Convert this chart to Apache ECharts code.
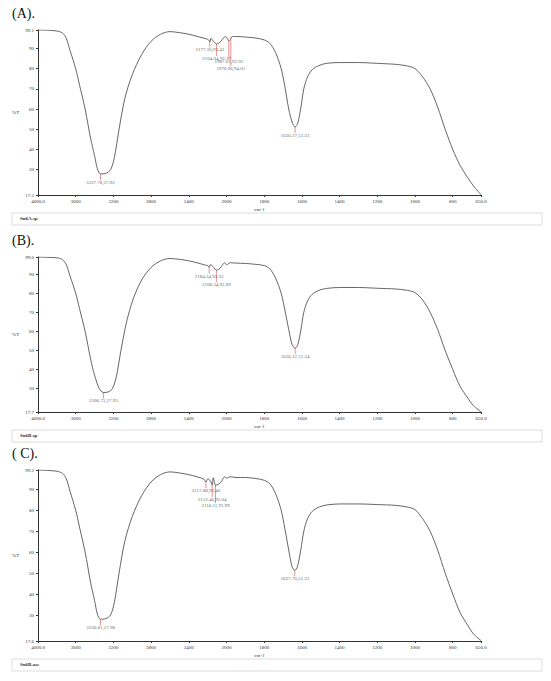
<!DOCTYPE html>
<html><head><meta charset="utf-8">
<script src="https://cdn.jsdelivr.net/npm/echarts@6/dist/echarts.min.js"></script>
<style>html,body{margin:0;background:#fff}#chart{width:551px;height:681px}</style>
</head><body><div id="chart"></div>
<script>
// wavenumber (cm-1), %T
const specA = [[4000,99.1],[3900,99],[3800,98.6],[3740,97.6],[3700,95],[3660,89],[3600,80],[3560,72],[3500,60],[3440,45],[3400,37],[3370,30.5],[3337,27.9],[3280,28.2],[3230,30],[3190,36],[3140,50],[3080,65],[3000,77],[2900,87],[2800,93.5],[2700,97],[2600,98.3],[2500,97.8],[2400,97],[2300,95.8],[2220,94.8],[2190,94.2],[2177,93.2],[2165,95],[2140,93.6],[2104,92.2],[2060,93.5],[2030,95.3],[2010,95.8],[1995,94.8],[1987,93.8],[1980,94.2],[1970,95.8],[1940,95.9],[1900,95.6],[1850,95.2],[1800,94.2],[1770,92.5],[1740,88],[1710,80],[1690,71],[1670,60],[1650,53],[1636,51.2],[1622,53],[1605,61],[1590,70],[1570,76],[1545,79.5],[1510,81.5],[1470,82.6],[1400,83],[1300,83],[1200,82.6],[1100,82.1],[1040,81.3],[1000,80],[960,76],[920,70],[880,61],[840,50],[800,40],[760,32],[720,26],[690,22],[650,17.6]];
const specB = [[4000,99],[3900,98.8],[3800,98.6],[3740,97.6],[3700,95],[3660,89],[3600,80],[3560,72],[3500,60],[3440,45],[3400,37],[3350,30],[3306,27.9],[3250,28.3],[3210,30],[3170,36],[3120,50],[3060,65],[2990,77],[2900,87],[2800,93.5],[2700,97],[2600,98.2],[2500,97.8],[2400,97],[2300,95.8],[2230,94.8],[2200,94.5],[2184,93.5],[2170,95],[2140,93.8],[2108,92.1],[2070,93],[2040,95],[2020,96],[2000,95],[1980,96],[1950,95.8],[1900,95.6],[1850,95.2],[1800,94.5],[1770,92.8],[1740,88],[1710,80],[1690,71],[1670,61],[1652,53],[1636,51.2],[1622,53],[1605,61],[1590,70],[1570,76],[1545,79.5],[1510,81.5],[1470,82.5],[1400,83],[1300,83],[1200,82.6],[1100,82.2],[1040,81.5],[1000,80.3],[960,76.5],[920,70],[880,61],[840,50],[800,40],[760,31],[720,25],[690,21],[650,17.8]];
const specC = [[4000,99.2],[3900,99],[3800,98.6],[3740,97.6],[3700,95],[3660,89],[3600,80],[3560,72],[3500,60],[3440,45],[3400,37],[3370,30.5],[3337,28],[3280,28.3],[3230,30],[3190,36],[3140,50],[3080,65],[3000,77],[2900,87],[2800,93.5],[2700,97],[2600,98.3],[2500,97.8],[2400,97],[2300,95.8],[2240,94.8],[2217,93.4],[2200,95],[2170,94],[2152,92],[2140,95.5],[2116,92],[2080,92.5],[2050,94],[2020,96],[2000,95.3],[1980,96],[1950,95.6],[1900,95.6],[1850,95.2],[1800,94.3],[1770,92.6],[1740,88],[1710,80],[1690,71],[1670,61],[1652,53],[1638,51.3],[1624,53],[1606,61],[1590,70],[1570,76],[1545,79.5],[1510,81.5],[1470,82.5],[1400,83],[1300,83],[1200,82.7],[1100,82.3],[1040,81.5],[1000,80.3],[960,76],[920,70],[880,61],[840,50],[800,40],[760,31],[720,25],[690,21],[650,17.8]];
const peaksA = [[3337.78,27.92],[2177.30,93.43],[2104.04,92.17],[1987.61,93.92],[1976.96,94.01],[1636.27,51.23]];
const peaksB = [[3306.73,27.93],[2184.34,93.32],[2108.34,92.09],[1636.12,51.24]];
const peaksC = [[3336.81,27.98],[2217.88,93.40],[2152.46,92.04],[2116.11,91.99],[1637.70,51.33]];
// label drop (px) below each peak, staggered like the instrument print-out
const dropA = [6, 6, 12, 19, 26, 6];
const dropB = [6, 6, 12, 6];
const dropC = [6, 6, 12, 18, 6];
const yMin = [17.5, 17.7, 17.6];
const yMax = [99.1, 99.0, 99.2];
const panelTitles = ['(A).', '(B).', '( C).'];
const fileNames = ['Sn6A.sp', 'Sn6B.sp', 'Sn6B.asc'];
const xTicks = [4000, 3600, 3200, 2800, 2400, 2000, 1800, 1600, 1400, 1200, 1000, 800, 650];
const yTicks = [30, 40, 50, 60, 70, 80, 90];

// instrument axis: scale halves above 2000 cm-1
const pos = w => w <= 2000 ? w : 2000 + (w - 2000) / 2;
const unpos = p => p <= 2000 ? p : 2000 + (p - 2000) * 2;

const tops = [30, 257, 470];
const bottoms = [195, 412, 641];
const specs = [specA, specB, specC];
const peaks = [peaksA, peaksB, peaksC];
const drops = [dropA, dropB, dropC];
const font = '"Liberation Serif", serif';

const chart = echarts.init(document.getElementById('chart'), null, { renderer: 'svg' });
const grid = [], xAxis = [], yAxis = [], series = [], graphic = [];
for (let i = 0; i < 3; i++) {
    grid.push({ left: 38, right: 70, top: tops[i], height: bottoms[i] - tops[i] });
    const xt = xTicks.map(pos);
    xAxis.push({
        gridIndex: i, type: 'value', inverse: true, min: 650, max: 3000,
        splitLine: { show: false },
        axisLine: { onZero: false, lineStyle: { color: '#333', width: 1 } },
        axisTick: { customValues: xt, length: 2, lineStyle: { color: '#333' } },
        axisLabel: {
            customValues: xt, fontSize: 5, color: '#333', fontFamily: font, margin: 4,
            formatter: v => { const w = Math.round(unpos(v)); return (w === 4000 || w === 650) ? w + '.0' : String(w); }
        },
        name: 'cm-1', nameLocation: 'middle', nameGap: 12,
        nameTextStyle: { fontSize: 5, color: '#333', fontFamily: font }
    });
    const yt = [yMin[i]].concat(yTicks, [yMax[i]]);
    yAxis.push({
        gridIndex: i, type: 'value', min: yMin[i], max: yMax[i],
        splitLine: { show: false },
        axisLine: { show: true, lineStyle: { color: '#333', width: 1 } },
        axisTick: { customValues: yt, length: 2, lineStyle: { color: '#333' } },
        axisLabel: { customValues: yt, fontSize: 5, color: '#333', fontFamily: font, margin: 4,
            formatter: v => (v === yMin[i] || v === yMax[i]) ? v.toFixed(1) : String(v) },
        name: '%T', nameLocation: 'middle', nameGap: 14, nameRotate: 0,
        nameTextStyle: { fontSize: 5, color: '#333', fontFamily: font }
    });
    series.push({
        type: 'line', xAxisIndex: i, yAxisIndex: i, smooth: 0.3, symbol: 'none',
        lineStyle: { color: '#555', width: 0.9 }, silent: true,
        data: specs[i].map(d => [pos(d[0]), d[1]])
    });
    series.push({
        type: 'scatter', xAxisIndex: i, yAxisIndex: i, silent: true,
        symbol: 'rect', itemStyle: { color: '#e05050' },
        label: {
            show: true, position: 'bottom', distance: 0, fontSize: 5, color: '#333', fontFamily: font,
            formatter: p => unpos(p.value[0]).toFixed(2) + ',' + p.value[1].toFixed(2)
        },
        labelLayout: { hideOverlap: false },
        data: peaks[i].map((d, k) => ({
            value: [pos(d[0]), d[1]],
            symbolSize: [0.8, drops[i][k]],
            symbolOffset: [0, drops[i][k] / 2]
        }))
    });
    graphic.push({ type: 'text', left: 12, top: tops[i] - 24, style: { text: panelTitles[i], font: '14px ' + font, fill: '#111' } });
    graphic.push({ type: 'rect', shape: { x: 12, y: bottoms[i] + 18, width: 530, height: 12 },
        style: { fill: '#fff', stroke: '#ddd', lineWidth: 1 } });
    graphic.push({ type: 'text', left: 20, top: bottoms[i] + 21, style: { text: fileNames[i], font: 'bold 5px ' + font, fill: '#333', textDecoration: 'underline' } });
}
chart.setOption({ animation: false, backgroundColor: '#fff', grid, xAxis, yAxis, series, graphic });
</script></body></html>
